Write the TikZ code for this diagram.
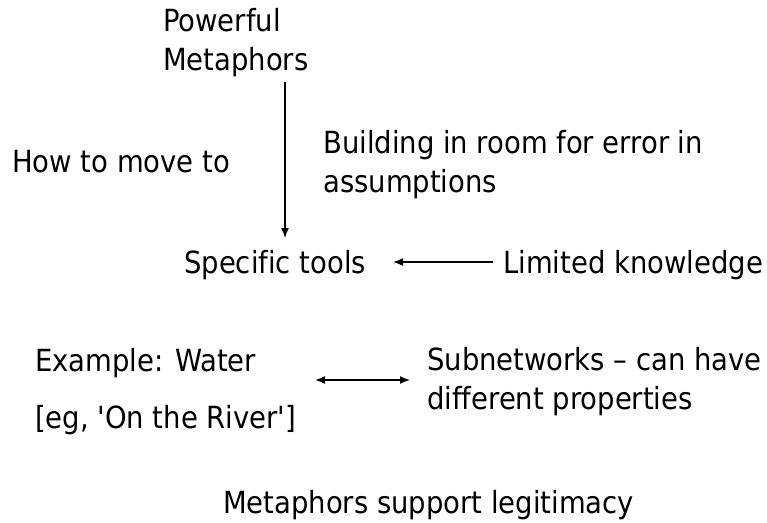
\documentclass[tikz,border=0pt]{standalone}
\usepackage{fontspec}
\setmainfont{DejaVu Sans Condensed}[Ligatures={TeXOff,NoCommon}]
\usetikzlibrary{arrows.meta}
\begin{document}
\begin{tikzpicture}[x=1pt,y=-1pt,
  lbl/.style={anchor=base west,inner sep=0pt,font=\fontsize{30.5}{38.5}\selectfont,align=left},
  conn/.style={line width=1.4pt,-{Latex[length=10pt,width=8pt]}},
  biconn/.style={line width=1.4pt,{Latex[length=10pt,width=8pt]}-{Latex[length=10pt,width=8pt]}}]
\useasboundingbox (0,0) rectangle (767,522);
% multi-line labels are placed by the baseline of their last line
\node[lbl] (pm) at (163,70) {Powerful\\Metaphors};
\node[lbl] (how) at (12,172) {How to move to};
\node[lbl] (bld) at (323,192) {Building in room for error in\\assumptions};
\node[lbl] (spec) at (184,273) {Specific tools};
\node[lbl] (lim) at (503,273) {Limited knowledge};
\node[lbl] (ex) at (35,371) {Example: Water};
\node[lbl] (eg) at (35,428) {[eg, 'On the River']};
\node[lbl] (sub) at (427,409) {Subnetworks – can have\\different properties};
\node[lbl] (leg) at (223,513) {Metaphors support legitimacy};
\coordinate (vtop) at (285,82);
\coordinate (vbot) at (285,238);
\draw[conn] (vtop) -- (vbot);
\coordinate (limtail) at (493,262);
\coordinate (spechead) at (393,262);
\draw[conn] (limtail) -- (spechead);
\coordinate (bl) at (315,380);
\coordinate (br) at (410,380);
\draw[biconn] (bl) -- (br);
\end{tikzpicture}
\end{document}
